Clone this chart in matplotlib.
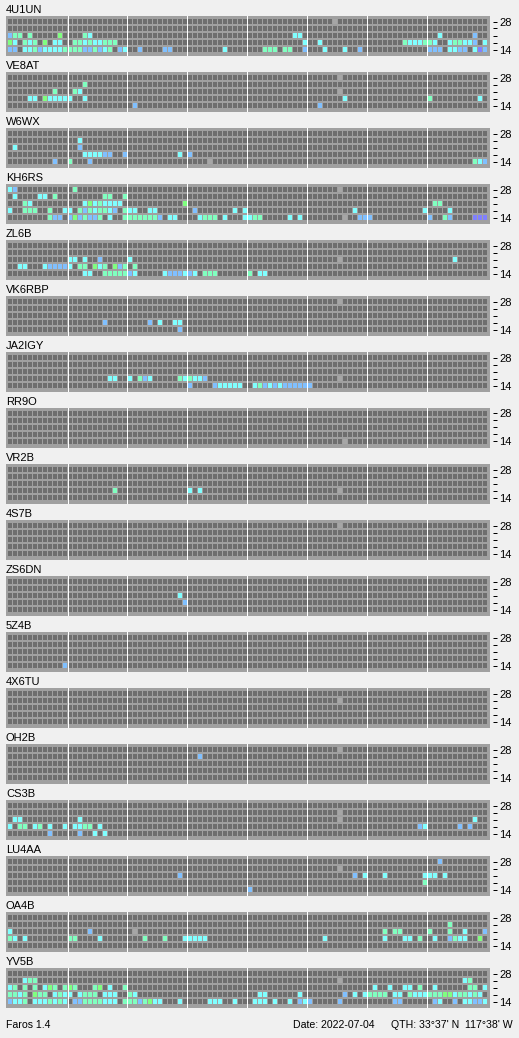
import numpy as np
import matplotlib.pyplot as plt

plt.rcParams['font.family'] = ['Liberation Sans', 'DejaVu Sans']

# beacon stations, top to bottom
stations = ["4U1UN", "VE8AT", "W6WX", "KH6RS", "ZL6B", "VK6RBP", "JA2IGY", "RR9O", "VR2B",
            "4S7B", "ZS6DN", "5Z4B", "4X6TU", "OH2B", "CS3B", "LU4AA", "OA4B", "YV5B"]
bands = [14, 18, 21, 24, 28]
n_slots = 96

# heard slots per band: "<slot><colour code>", one string per station
b28 = ["65x", "66x", "", "0c 1b 13m 66x", "", "66x", "", "", "", "66x", "", "", "", "66x",
       "", "86b", "", ""]
b24 = ["", "15m", "14c", "1c 6c 7c 9m 19m 20m 23m", "", "", "", "", "", "", "", "", "66x", "38b",
       "66x", "66x", "88m", "3c 4m 5m 66x 91c 92m"]
b21 = ["0b 1m 2m 4m 10g 15m 16c 57c 58c 86c 93b",
       "9m 13m 14c 66x",
       "1c 14b",
       "3m 4c 15c 16g 17c 18m 19c 20c 21c 22c 35g 85m 86m",
       "12c 13c 15c 18b 24c 66x 89c",
       "", "", "", "", "",
       "34c",
       "", "", "",
       "1c 2c 14c 66x 93c",
       "34b 69b 71c 75c 83c 84c 85c 87c",
       "0c 16b 25x 75m 77m 78m 84m 88m 91c 95b",
       "0c 1m 3m 5m 7c 8g 9m 11m 12g 13m 17m 18g 20c 23m 73c 76c 79c 80c 82m 85c 92m 93m 95c"]
b18 = ["0g 1c 3m 4c 5m 7g 9c 10c 13m 14m 15c 16m 17c 18c 19m 20m 21m 59c 62c 79m 80c 81c 82c "
       "83m 84m 85c 88c 89m 90m 91c 92c 93b 95c",
       "4c 5c 7g 8c 9c 10c 11c 12c 15c 67c 84m 94c",
       "15c 16c 17c 18c 19b 20b 23b 34c 36b",
       "0c 3m 4m 5m 8m 11c 12c 14m 15b 16m 17c 18m 19m 20c 21b 23m 24c 25c 28c 29c 37b 45c 47c "
       "69c 83c 88c",
       "2c 3c 7c 8b 9b 10b 11b 12c 14m 15m 17g 18c 19m 21g 22b 23m 25m",
       "19b 28b 30c 33c 34c",
       "20c 21c 24c 26m 27b 28c 34m 35c 36m 37c 38c 39b 66x",
       "",
       "21m 36c 38c 66x",
       "",
       "35b",
       "", "", "",
       "0c 2m 3m 5c 6m 8c 11c 13c 14c 15m 16m 18c 82b 83c 90b 92b",
       "83m",
       "0m 1c 3c 12m 13m 18c 27m 31m 35c 36c 37c 38c 39c 63c 75c 79c 80c 82m 85c 88b 89m 90c 91c 94g",
       "0m 1m 2c 3m 5g 6m 7m 9c 10m 11c 12c 14c 15m 16m 17m 19c 20c 21c 24m 25c 50c 51c 58c 67b "
       "69c 71c 72m 73m 74m 75m 77c 78c 80m 81c 82c 83c 84m 85m 86m 87g 88g 89c 90m 91m 92c 93m 94c"]
b14 = ["0b 1b 3c 4c 5m 6b 7c 8c 9c 10c 11m 12m 13m 14m 15b 16b 17m 18b 19c 20m 22b 23c 26b 31b 32b "
       "43c 51m 52m 53m 55m 56m 59b 63c 67c 70b 84b 85b 86b 88c 89c 90b 91b 93c 94p 95b",
       "25b 62b",
       "9b 12m 16b 40x 93m 94c 95b",
       "8m 9b 10b 12b 13g 14b 15m 16b 17b 18m 20c 23m 24m 25m 26m 27m 28m 29m 30b 32c 33c 38c 39m "
       "40m 41m 43c 47c 48c 49m 50m 56c 58c 67x 70b 71b 72b 84b 87m 88b 93p 94p 95p",
       "15c 16c 19m 20m 21m 22m 23m 24b 25c 31c 32b 33b 34b 35c 36b 37c 39m 40m 41m 48m 50c 51c",
       "34b",
       "36b 41b 42c 43c 44c 45c 46c 49c 50m 51b 52c 53b 54c 55b 56b 57b 58b 59b 60b",
       "67x",
       "", "", "",
       "11b",
       "", "",
       "8b 14b 17c 19c",
       "48b",
       "",
       "0b 1c 2c 3m 5c 6c 7c 8m 9c 10m 11c 13b 14b 15m 16m 17m 18m 19c 20c 21c 23m 24m 25m 26b 27m "
       "28g 29c 30c 34c 40c 41c 42c 45c 49c 50c 51c 53c 56c 58b 59c 60b 66b 77b 78b 85b 86c 89b 91c "
       "92c 93b 94b 95c"]

palette = {"b": "#80c0ff", "c": "#80ffff", "m": "#80ffc0", "g": "#80ff80",
           "p": "#8080ff", "x": "#a6a6a6"}
EMPTY = "#6e6e6e"
FRAME = "#a0a0a0"


def parse(s):
    return {int(tok[:-1]): tok[-1] for tok in s.split()}


W, H = 519, 1038
fig = plt.figure(figsize=(W / 100, H / 100), dpi=100, facecolor="#f0f0f0")

slots = np.arange(n_slots)
for i, name in enumerate(stations):
    top = 16 + 56 * i
    ax = fig.add_axes([6 / W, 1 - (top + 40) / H, 484 / W, 40 / H])
    ax.set_facecolor(FRAME)
    rows = [b14[i], b18[i], b21[i], b24[i], b28[i]]
    for r, s in enumerate(rows):
        heard = parse(s)
        colors = [palette[heard[c]] if c in heard else EMPTY for c in slots]
        ax.bar(slots, 5 / 7, bottom=r, width=0.8, align="edge", color=colors, linewidth=0)
    # 3-hour separators
    for k in range(1, 8):
        ax.axvline(12 * k - 0.1, color="white", lw=0.72)
    ax.set_xlim(-0.4, n_slots + 0.4)
    ax.set_ylim(-4 / 7, 4 + 8 / 7)
    ax.set_xticks([])
    ax.yaxis.tick_right()
    ax.set_yticks(np.arange(len(bands)) + 2.5 / 7)
    ax.set_yticklabels([str(b) if b in (14, 28) else "" for b in bands])
    ax.tick_params(axis="y", length=2.9, width=0.72, pad=1.4, labelsize=8, colors="black")
    for sp in ax.spines.values():
        sp.set_visible(False)
    ax.spines["right"].set_position(("outward", 2.2))
    ax.set_title(name, loc="left", fontsize=8, pad=2.4)

fig.text(6 / W, 1 - 1025.5 / H, "Faros 1.4", fontsize=7.6, va="center")
fig.text(293 / W, 1 - 1025.5 / H, "Date: 2022-07-04", fontsize=7.6, va="center")
fig.text(513 / W, 1 - 1025.5 / H, "QTH: 33°37' N  117°38' W", fontsize=7.6, va="center", ha="right")

fig.savefig("out.png", dpi=100, facecolor=fig.get_facecolor())
